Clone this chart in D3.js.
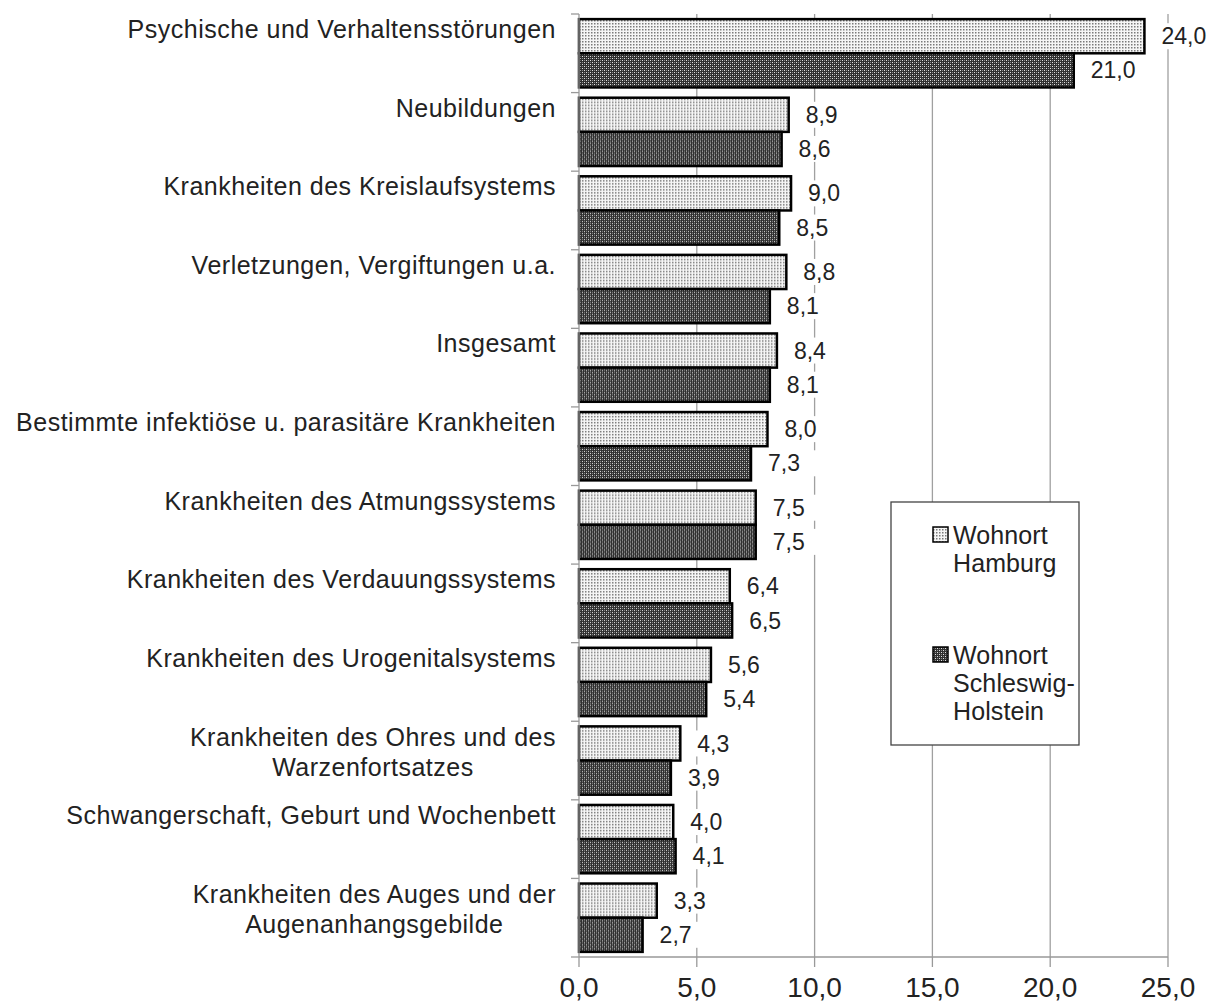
<!DOCTYPE html>
<html>
<head>
<meta charset="utf-8">
<script src="https://cdn.jsdelivr.net/npm/d3@7"></script>
<style>
body { margin: 0; background: #fff; }
text { font-family: "Liberation Sans", Arial, sans-serif; fill: #222; }
</style>
</head>
<body>
<svg id="chart" width="1208" height="1003"></svg>
<script>
// data
var categories = [
    ["Psychische und Verhaltensstörungen"],
    ["Neubildungen"],
    ["Krankheiten des Kreislaufsystems"],
    ["Verletzungen, Vergiftungen u.a."],
    ["Insgesamt"],
    ["Bestimmte infektiöse u. parasitäre Krankheiten"],
    ["Krankheiten des Atmungssystems"],
    ["Krankheiten des Verdauungssystems"],
    ["Krankheiten des Urogenitalsystems"],
    ["Krankheiten des Ohres und des", "Warzenfortsatzes"],
    ["Schwangerschaft, Geburt und Wochenbett"],
    ["Krankheiten des Auges und der", "Augenanhangsgebilde"]
];
var hamburg = [24.0, 8.9, 9.0, 8.8, 8.4, 8.0, 7.5, 6.4, 5.6, 4.3, 4.0, 3.3];
var schleswig = [21.0, 8.6, 8.5, 8.1, 8.1, 7.3, 7.5, 6.5, 5.4, 3.9, 4.1, 2.7];
var xTicks = [0, 5, 10, 15, 20, 25];
var seriesNames = [["Wohnort", "Hamburg"], ["Wohnort", "Schleswig-", "Holstein"]];

var svg = d3.select("#chart");
var mLeft = 579, mRight = 1168, mTop = 14, mBottom = 957;

var x = d3.scaleLinear().domain([0, 25]).range([mLeft, mRight]);
var y = d3.scaleBand().domain(d3.range(categories.length)).range([mTop, mBottom]);
var inner = d3.scaleBand().domain([0, 1]).range([0, y.bandwidth()]).paddingOuter(0.15).paddingInner(0);

var fmt = function(v) { return d3.format(".1f")(v).replace(".", ","); };

// patterns
var defs = svg.append("defs");
var p1 = defs.append("pattern").attr("id", "pat-hh").attr("patternUnits", "userSpaceOnUse")
    .attr("width", 3).attr("height", 3);
p1.append("rect").attr("width", 3).attr("height", 3).attr("fill", "#f6f6f6");
p1.append("rect").attr("x", 0).attr("y", 0).attr("width", 1.5).attr("height", 1.5).attr("fill", "#7a7a7a");

var p2 = defs.append("pattern").attr("id", "pat-sh").attr("patternUnits", "userSpaceOnUse")
    .attr("width", 4).attr("height", 4);
p2.append("rect").attr("width", 4).attr("height", 4).attr("fill", "#303030");
p2.append("rect").attr("x", 0).attr("y", 0).attr("width", 1).attr("height", 1).attr("fill", "#e0e0e0");
p2.append("rect").attr("x", 2).attr("y", 2).attr("width", 1).attr("height", 1).attr("fill", "#e0e0e0");
p2.append("rect").attr("x", 0).attr("y", 2).attr("width", 1).attr("height", 1).attr("fill", "#8a8a8a");
p2.append("rect").attr("x", 2).attr("y", 0).attr("width", 1).attr("height", 1).attr("fill", "#8a8a8a");

// gridlines
svg.append("g").selectAll("line").data(xTicks.slice(1)).enter().append("line")
    .attr("x1", function(d) { return x(d); }).attr("x2", function(d) { return x(d); })
    .attr("y1", mTop).attr("y2", mBottom)
    .attr("stroke", "#a0a0a0").attr("stroke-width", 1.3);

// bars
var groups = svg.append("g").selectAll("g").data(categories).enter().append("g")
    .attr("transform", function(d, i) { return "translate(0," + y(i) + ")"; });

var fills = ["url(#pat-hh)", "url(#pat-sh)"];
[hamburg, schleswig].forEach(function(series, s) {
    groups.append("rect")
        .attr("x", x(0))
        .attr("y", inner(s))
        .attr("width", function(d, i) { return x(series[i]) - x(0); })
        .attr("height", inner.bandwidth())
        .attr("fill", fills[s])
        .attr("stroke", "#000").attr("stroke-width", 2.5);
});

// value labels with white boxes
[hamburg, schleswig].forEach(function(series, s) {
    var lab = groups.append("g")
        .attr("transform", function(d, i) {
            return "translate(" + (x(series[i]) + 17) + "," + (inner(s) + inner.bandwidth() / 2) + ")";
        });
    lab.append("rect").attr("x", -3).attr("y", -13).attr("width", 52).attr("height", 26).attr("fill", "#fff");
    lab.append("text").attr("dy", "0.35em").style("font-size", "23px")
        .text(function(d, i) { return fmt(series[i]); });
});

// y axis
svg.append("line").attr("x1", mLeft).attr("x2", mLeft).attr("y1", mTop).attr("y2", mBottom)
    .attr("stroke", "#999").attr("stroke-width", 1.3);
svg.append("g").selectAll("line").data(d3.range(categories.length + 1)).enter().append("line")
    .attr("x1", mLeft - 8).attr("x2", mLeft)
    .attr("y1", function(d) { return mTop + d * y.step(); })
    .attr("y2", function(d) { return mTop + d * y.step(); })
    .attr("stroke", "#999").attr("stroke-width", 1.3);

// category labels
groups.each(function(lines, i) {
    var g = d3.select(this);
    var cy = y.bandwidth() / 2;
    var t = g.append("text").style("font-size", "25px").style("letter-spacing", "0.5px")
        .attr("text-anchor", "middle");
    var spans = t.selectAll("tspan").data(lines).enter().append("tspan")
        .text(function(d) { return d; });
    var widths = [];
    spans.each(function() { widths.push(this.getComputedTextLength()); });
    var w = d3.max(widths);
    var cx = 556 - w / 2;
    var y0 = lines.length === 1 ? cy - 24 : cy - 23;
    spans.attr("x", cx).attr("y", function(d, j) { return y0 + j * 30; }).attr("dy", "0.35em");
});

// x axis
svg.append("line").attr("x1", mLeft).attr("x2", mRight).attr("y1", mBottom).attr("y2", mBottom)
    .attr("stroke", "#999").attr("stroke-width", 1.3);
var xt = svg.append("g").selectAll("g").data(xTicks).enter().append("g");
xt.append("line")
    .attr("x1", function(d) { return x(d); }).attr("x2", function(d) { return x(d); })
    .attr("y1", mBottom).attr("y2", mBottom + 10)
    .attr("stroke", "#999").attr("stroke-width", 1.3);
xt.append("text").attr("x", function(d) { return x(d); }).attr("y", 987).attr("dy", "0.35em")
    .attr("text-anchor", "middle").style("font-size", "28px")
    .text(function(d) { return fmt(d); });

// legend
var lg = svg.append("g").attr("transform", "translate(891,502)");
lg.append("rect").attr("width", 188).attr("height", 243).attr("fill", "#fff")
    .attr("stroke", "#444").attr("stroke-width", 1.3);
seriesNames.forEach(function(lines, s) {
    var ly = 33 + s * 120;
    lg.append("rect").attr("x", 42).attr("y", ly - 8).attr("width", 15).attr("height", 15)
        .attr("fill", fills[s]).attr("stroke", "#000").attr("stroke-width", 1.5);
    var t = lg.append("text").style("font-size", "25px").style("letter-spacing", "0.1px");
    t.selectAll("tspan").data(lines).enter().append("tspan")
        .attr("x", 62)
        .attr("y", function(d, j) { return ly + j * 28; })
        .attr("dy", "0.35em")
        .text(function(d) { return d; });
});
</script>
</body>
</html>
